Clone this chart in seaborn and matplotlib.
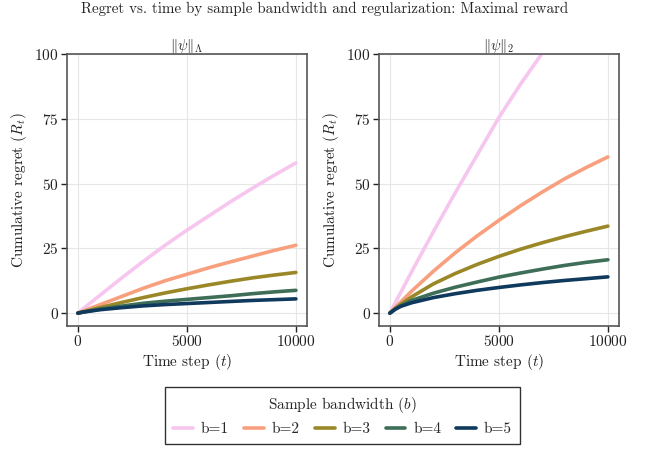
import matplotlib
matplotlib.use("Agg")
import matplotlib.pyplot as plt
import numpy as np
import pandas as pd
import seaborn as sns

# time steps
t = [0, 250, 500, 1000, 2000, 3000, 4000, 5000, 6000, 7000, 8000, 9000, 10000]
bands = ["b=1", "b=2", "b=3", "b=4", "b=5"]

# regret with ||psi||_Lambda regularization
lam_b1 = [0, 1.7, 3.4, 6.8, 13.5, 20.0, 26.2, 32.0, 37.5, 43.0, 48.2, 53.2, 58.0]
lam_b2 = [0, 0.8, 1.6, 3.2, 6.4, 9.6, 12.5, 15.0, 17.5, 19.8, 22.0, 24.2, 26.2]
lam_b3 = [0, 0.5, 1.0, 2.1, 4.1, 6.0, 7.8, 9.4, 10.9, 12.3, 13.6, 14.7, 15.7]
lam_b4 = [0, 0.4, 0.8, 1.5, 2.7, 3.8, 4.6, 5.3, 6.0, 6.7, 7.5, 8.2, 8.8]
lam_b5 = [0, 0.4, 0.7, 1.3, 2.1, 2.8, 3.3, 3.7, 4.1, 4.5, 4.9, 5.2, 5.5]

# regret with ||psi||_2 regularization
l2_b1 = [0, 4.0, 8.0, 16.0, 31.5, 46.5, 61.0, 75.5, 88.5, 100.5, 112.0, 123.0, 134.0]
l2_b2 = [0, 2.2, 4.3, 8.5, 16.2, 23.3, 29.8, 35.8, 41.5, 46.8, 51.8, 56.2, 60.3]
l2_b3 = [0, 1.8, 3.4, 6.3, 11.3, 15.3, 18.8, 21.9, 24.7, 27.2, 29.5, 31.6, 33.6]
l2_b4 = [0, 1.6, 2.9, 4.9, 7.7, 10.0, 12.0, 13.9, 15.5, 17.0, 18.4, 19.6, 20.6]
l2_b5 = [0, 1.5, 2.6, 4.0, 6.0, 7.5, 8.8, 9.9, 10.9, 11.8, 12.6, 13.3, 14.0]

colors = ["#f7c6ef", "#f89f7e", "#9a8828", "#3e6e58", "#0f3a5e"]


def to_long(series):
    rows = []
    for b, vals in zip(bands, series):
        for x, y in zip(t, vals):
            rows.append({"t": x, "regret": y, "band": b})
    return pd.DataFrame(rows)


df_lam = to_long([lam_b1, lam_b2, lam_b3, lam_b4, lam_b5])
df_l2 = to_long([l2_b1, l2_b2, l2_b3, l2_b4, l2_b5])

sns.set_theme(style="whitegrid")
plt.rcParams["font.family"] = ["cmr10", "DejaVu Serif"]
plt.rcParams["mathtext.fontset"] = "cm"
plt.rcParams["axes.formatter.use_mathtext"] = True

fig = plt.figure(figsize=(6.5, 4.51), dpi=100)
ax1 = fig.add_axes([0.103, 0.277, 0.369, 0.603])
ax2 = fig.add_axes([0.583, 0.277, 0.369, 0.603])

for ax, df, title in [(ax1, df_lam, r"$\|\psi\|_\Lambda$"), (ax2, df_l2, r"$\|\psi\|_2$")]:
    sns.lineplot(data=df, x="t", y="regret", hue="band", palette=colors,
                 linewidth=2.6, ax=ax, legend=(ax is ax1))
    ax.set_xlim(-500, 10500)
    ax.set_ylim(-5, 100)
    ax.set_xticks([0, 5000, 10000])
    ax.set_yticks([0, 25, 50, 75, 100])
    ax.set_xlabel(r"Time step $(t)$", fontsize=11, color="#222222", labelpad=2)
    ax.set_ylabel(r"Cumulative regret $(R_t)$", fontsize=11, color="#222222", labelpad=4)
    ax.set_title(title, fontsize=10.5, pad=3)
    ax.tick_params(axis="both", labelsize=11, length=4, width=1, colors="#222222",
                   bottom=True, left=True, pad=2)
    ax.grid(True, color="#e6e6e6", linewidth=0.8)
    for s in ax.spines.values():
        s.set_color("#555555")
        s.set_linewidth(1.2)
    ax.set_facecolor("white")

handles, labels = ax1.get_legend_handles_labels()
ax1.get_legend().remove()
leg = fig.legend(handles, labels, loc="center", bbox_to_anchor=(0.527, 0.079), ncol=5,
                 title=r"Sample bandwidth $(b)$", fontsize=11, title_fontsize=11,
                 frameon=True, fancybox=False, handlelength=1.3, columnspacing=1.0,
                 handletextpad=0.5, borderpad=0.5)
leg.get_frame().set_edgecolor("black")
leg.get_frame().set_linewidth(1.0)
for h in leg.get_lines():
    h.set_linewidth(2.6)

fig.suptitle("Regret vs. time by sample bandwidth and regularization: Maximal reward",
             fontsize=10.8, y=0.995)

fig.savefig("out.png", dpi=100)
